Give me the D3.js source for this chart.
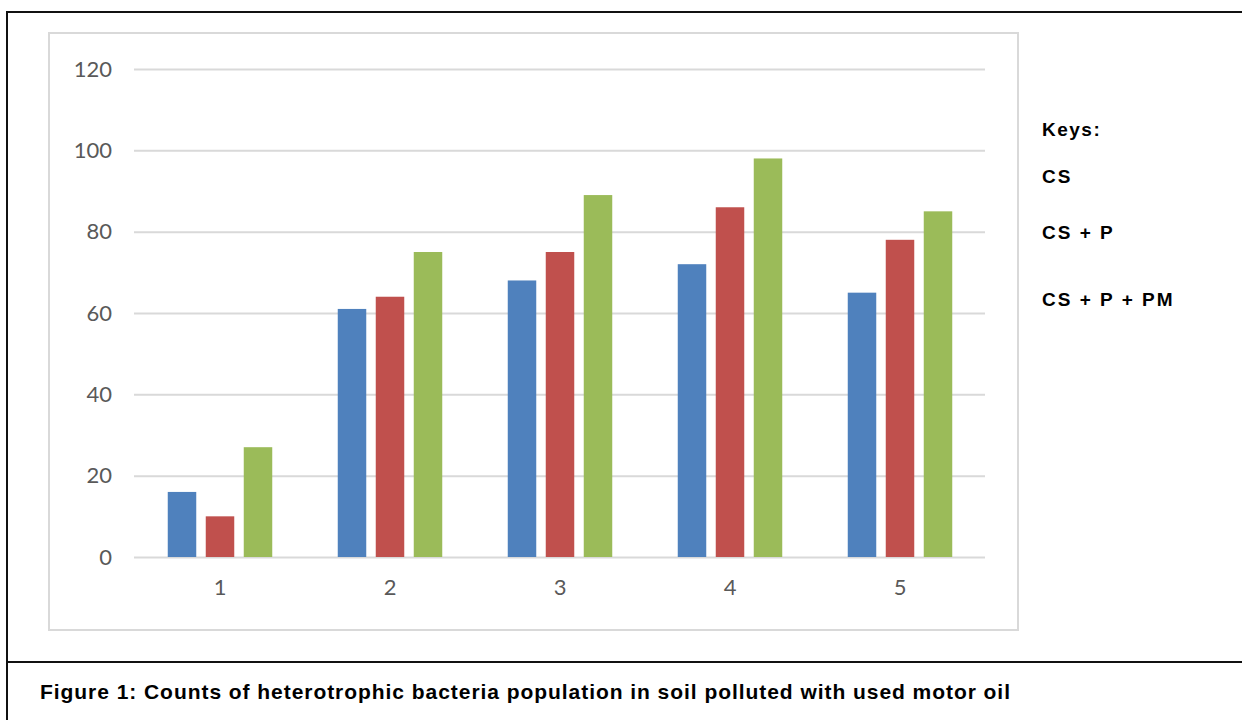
<!DOCTYPE html>
<html>
<head>
<meta charset="utf-8">
<script src="https://cdnjs.cloudflare.com/ajax/libs/d3/7.8.5/d3.min.js"></script>
<style>
  body { margin: 0; background: #fff; }
  svg { display: block; }
</style>
</head>
<body>
<div id="chart"></div>
<script>
// data
const groups = ["1", "2", "3", "4", "5"]
const seriesNames = ["CS", "CS + P", "CS + P + PM"]
const csValues = [16, 61, 68, 72, 65]
const cspValues = [10, 64, 75, 86, 78]
const csppmValues = [27, 75, 89, 98, 85]
const yTicks = [0, 20, 40, 60, 80, 100, 120]
const colors = ["#4f81bd", "#c0504d", "#9bbb59"]
const caption = "Figure 1: Counts of heterotrophic bacteria population in soil polluted with used motor oil"

const W = 1242, H = 720

const svg = d3.select("#chart").append("svg")
    .attr("width", W)
    .attr("height", H)

// outer table frame
svg.append("line").attr("x1", 6).attr("x2", W).attr("y1", 12).attr("y2", 12)
    .attr("stroke", "#111").attr("stroke-width", 2)
svg.append("line").attr("x1", 7).attr("x2", 7).attr("y1", 11).attr("y2", H)
    .attr("stroke", "#111").attr("stroke-width", 2)
svg.append("line").attr("x1", 6).attr("x2", W).attr("y1", 662).attr("y2", 662)
    .attr("stroke", "#111").attr("stroke-width", 2)

// chart area box
svg.append("rect")
    .attr("x", 49).attr("y", 33).attr("width", 969).attr("height", 597)
    .attr("fill", "#fff").attr("stroke", "#d9d9d9").attr("stroke-width", 2)

// scales
const x = d3.scaleBand().domain(groups).range([135, 985])
const xs = d3.scaleBand().domain(d3.range(3)).range([0, x.bandwidth()])
    .paddingInner(0.25).paddingOuter(0.862)
const y = d3.scaleLinear().domain([0, 120]).range([557, 69])

// gridlines + y labels via axis
const yAxis = svg.append("g")
    .attr("transform", "translate(134,0)")
    .call(d3.axisLeft(y).tickValues(yTicks).tickSize(-851).tickPadding(22))
yAxis.select(".domain").remove()
yAxis.selectAll(".tick line").attr("stroke", "#d9d9d9").attr("stroke-width", 2)
yAxis.selectAll(".tick text")
    .attr("fill", "#595959")
    .style("font-family", "Lato, 'Open Sans', sans-serif")
    .style("font-size", "22px")

// bars
const table = groups.map((g, i) => ({g: g, vals: [csValues[i], cspValues[i], csppmValues[i]]}))
const grp = svg.append("g").selectAll("g")
    .data(table).join("g")
    .attr("transform", d => `translate(${x(d.g)},0)`)
grp.selectAll("rect")
    .data(d => d.vals.map((v, k) => ({k: k, v: v})))
    .join("rect")
    .attr("x", d => xs(d.k))
    .attr("width", xs.bandwidth())
    .attr("y", d => y(d.v))
    .attr("height", d => y(0) - y(d.v))
    .attr("fill", d => colors[d.k])

// x axis labels
const xAxis = svg.append("g")
    .attr("transform", "translate(0,557)")
    .call(d3.axisBottom(x).tickSize(0).tickPadding(22))
xAxis.select(".domain").remove()
xAxis.selectAll(".tick text")
    .attr("fill", "#595959")
    .style("font-family", "Lato, 'Open Sans', sans-serif")
    .style("font-size", "22px")

// keys
const keyFont = "'Liberation Sans', Arial, sans-serif"
svg.append("text")
    .attr("x", 1042).attr("y", 136)
    .text("Keys:")
    .style("font-family", keyFont).style("font-weight", "bold")
    .style("font-size", "19px").style("letter-spacing", "1.5px")
const keyY = [183, 239, 306]
svg.append("g").selectAll("text")
    .data(seriesNames).join("text")
    .attr("x", 1042)
    .attr("y", (d, i) => keyY[i])
    .text(d => d)
    .style("font-family", keyFont).style("font-weight", "bold")
    .style("font-size", "19px").style("letter-spacing", "2px")
    .style("white-space", "pre")

// caption
svg.append("text")
    .attr("x", 40).attr("y", 699)
    .attr("textLength", 970).attr("lengthAdjust", "spacing")
    .text(caption)
    .style("font-family", keyFont).style("font-weight", "bold")
    .style("font-size", "21px")
</script>
</body>
</html>
